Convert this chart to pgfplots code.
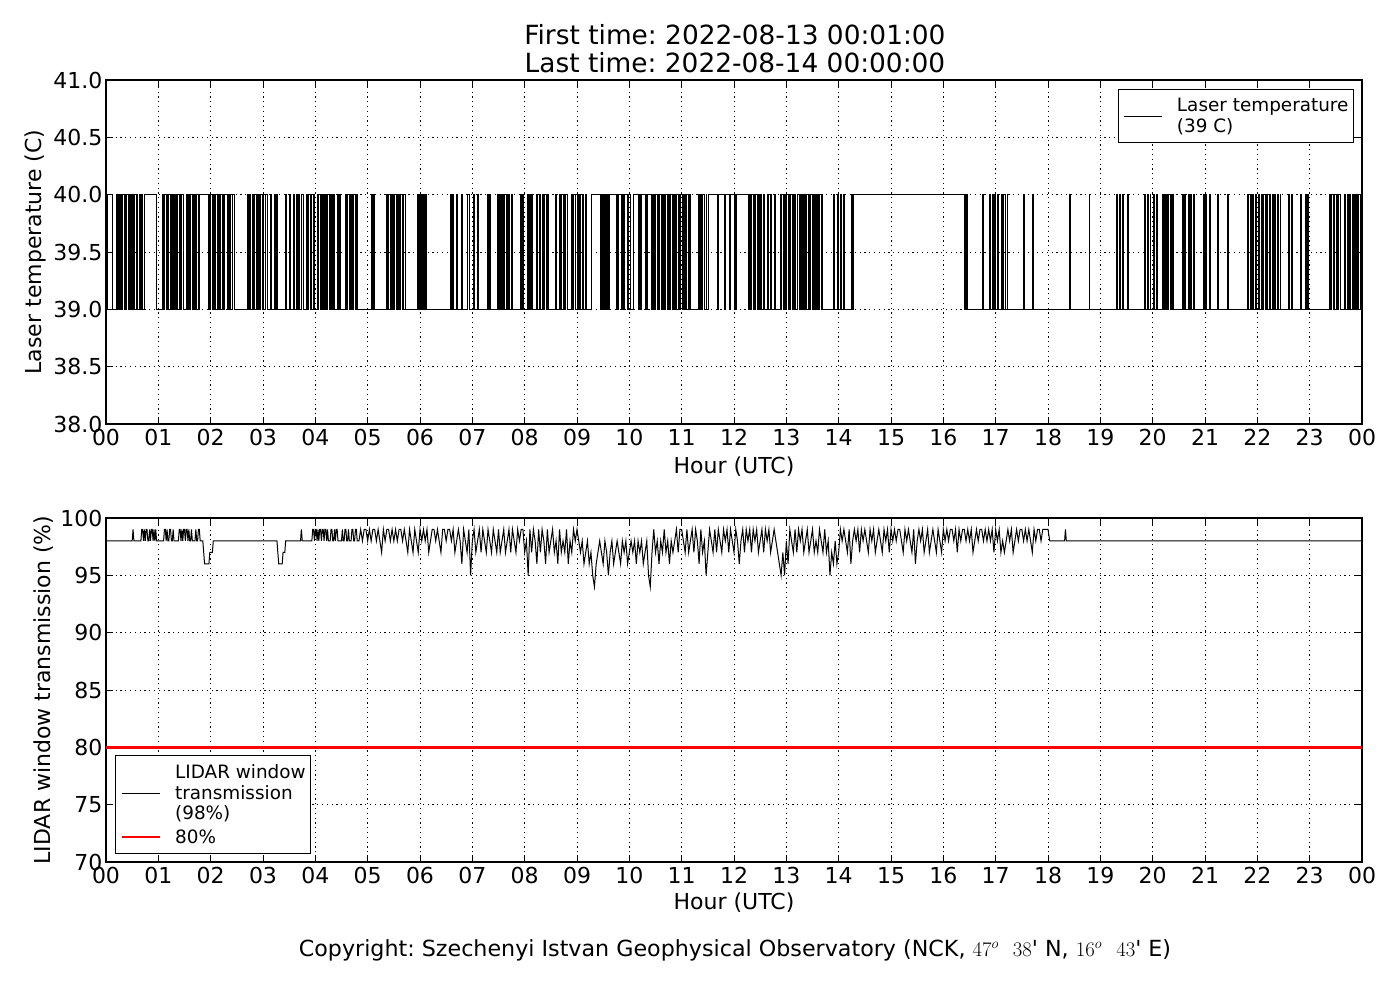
\documentclass[border=0pt]{standalone}
\usepackage{fontspec}
\setmainfont{DejaVu Sans}
\usepackage{pgfplots}
\pgfplotsset{compat=1.18}
\pgfplotsset{myaxis/.style={
  scale only axis, width=1256pt, height=344pt,
  xmin=0, xmax=1440,
  xtick={0,60,...,1440},
  xticklabels={00,01,02,03,04,05,06,07,08,09,10,11,12,13,14,15,16,17,18,19,20,21,22,23,00},
  tick align=inside,
  major tick length=7pt,
  tick style={black, line width=0.9pt},
  axis line style={line width=1.1pt},
  grid=major,
  grid style={black, line width=0.8pt, dash pattern=on 1.2pt off 3.6pt},
  ticklabel style={font=\fontsize{22}{26}\selectfont},
  xticklabel style={yshift=-2pt},
  label style={font=\fontsize{22}{26}\selectfont},
  xlabel={Hour (UTC)},
  legend cell align=left,
  legend style={font=\fontsize{18.4}{20.5}\selectfont, draw=black, line width=1pt, cells={align=left}, inner xsep=3pt, inner ysep=7pt, row sep=4pt, nodes={inner sep=2pt}},
  legend image code/.code={\path (-2pt,0pt); \draw[#1] (0pt,0pt) -- (38pt,0pt); \path (44pt,0pt);},
}}
\begin{document}
\frenchspacing
\begin{tikzpicture}
\useasboundingbox (0pt,0pt) rectangle (1400pt,-1000pt);
\node[font=\fontsize{26.4}{30}\selectfont] at (735pt,-35pt) {First time: 2022-08-13 00:01:00};
\node[font=\fontsize{26.4}{30}\selectfont] at (735pt,-63pt) {Last time: 2022-08-14 00:00:00};
\begin{axis}[myaxis, at={(106pt,-424pt)}, anchor=south west,
  ymin=38, ymax=41,
  ytick={38,38.5,39,39.5,40,40.5,41},
  yticklabels={38.0,38.5,39.0,39.5,40.0,40.5,41.0},
  ylabel={Laser temperature (C)},
  xlabel style={at={(axis description cs:0.5,-0.124)}, anchor=center},
  ylabel style={at={(axis description cs:-0.0565,0.5)}, anchor=center},
  legend style={at={(0.9936,0.974)}, anchor=north east},
]
\addplot[black, line width=1pt, const plot, forget plot] table[row sep=\\] {
x y\\
1 39\\
2 40\\ 7 39\\ 12 40\\ 13 39\\ 14 40\\ 16 39\\ 17 40\\ 18 39\\ 19 40\\ 21 39\\ 22 40\\ 23 39\\ 24 40\\ 26 39\\ 27 40\\ 28 39\\ 29 40\\ 30 39\\
32 40\\ 33 39\\ 35 40\\ 36 39\\ 38 40\\ 40 39\\ 41 40\\ 42 39\\ 44 40\\ 58 39\\
65 40\\ 66 39\\ 67 40\\ 69 39\\ 70 40\\ 71 39\\ 72 40\\ 74 39\\ 75 40\\ 76 39\\ 77 40\\ 79 39\\ 80 40\\ 81 39\\ 82 40\\ 84 39\\ 85 40\\ 86 39\\ 87 40\\ 89 39\\
92 40\\ 93 39\\ 95 40\\ 96 39\\ 97 40\\ 99 39\\ 100 40\\ 101 39\\ 102 40\\ 103 39\\ 104 40\\ 106 39\\ 107 40\\ 117 39\\
118 40\\ 119 39\\ 120 40\\ 122 39\\ 123 40\\ 124 39\\ 125 40\\ 128 39\\ 129 40\\ 130 39\\ 131 40\\ 133 39\\ 134 40\\ 135 39\\ 136 40\\ 139 39\\ 140 40\\ 141 39\\ 142 40\\ 143 39\\ 145 40\\ 147 39\\
162 40\\ 163 39\\ 165 40\\ 166 39\\ 168 40\\ 169 39\\ 170 40\\ 172 39\\ 173 40\\ 174 39\\ 175 40\\ 176 39\\ 177 40\\ 179 39\\ 180 40\\ 181 39\\ 183 40\\ 185 39\\
189 40\\ 190 39\\ 193 40\\ 194 39\\ 196 40\\ 197 39\\ 206 40\\ 207 39\\ 210 40\\ 212 39\\ 215 40\\ 216 39\\ 218 40\\ 219 39\\ 221 40\\ 222 39\\ 224 40\\ 226 39\\
230 40\\ 231 39\\ 232 40\\ 234 39\\ 235 40\\ 236 39\\ 238 40\\ 239 39\\ 242 40\\ 243 39\\ 244 40\\ 246 39\\ 247 40\\ 248 39\\ 249 40\\ 251 39\\
252 40\\ 253 39\\ 254 40\\ 256 39\\ 257 40\\ 258 39\\ 259 40\\ 260 39\\ 261 40\\ 262 39\\ 265 40\\ 267 39\\ 268 40\\ 269 39\\
275 40\\ 276 39\\ 277 40\\ 279 39\\ 280 40\\ 281 39\\ 282 40\\ 283 39\\ 284 40\\ 286 39\\ 287 40\\ 288 39\\ 304 40\\ 305 39\\ 307 40\\ 308 39\\
322 40\\ 323 39\\ 324 40\\ 326 39\\ 327 40\\ 328 39\\ 329 40\\ 330 39\\ 331 40\\ 333 39\\ 334 40\\ 335 39\\ 336 40\\ 337 39\\ 338 40\\ 340 39\\ 341 40\\ 343 39\\
357 40\\ 358 39\\ 359 40\\ 361 39\\ 362 40\\ 363 39\\ 364 40\\ 365 39\\ 366 40\\ 367 39\\
395 40\\ 396 39\\ 397 40\\ 398 39\\ 402 40\\ 403 39\\ 408 40\\ 409 39\\ 415 40\\ 417 39\\ 421 40\\ 422 39\\ 426 40\\ 427 39\\ 437 40\\ 438 39\\ 440 40\\ 441 39\\
449 40\\ 450 39\\ 451 40\\ 452 39\\ 453 40\\ 455 39\\ 456 40\\ 457 39\\ 459 40\\ 460 39\\ 461 40\\ 463 39\\ 465 40\\ 466 39\\
475 40\\ 476 39\\ 478 40\\ 479 39\\ 483 40\\ 484 39\\ 485 40\\ 487 39\\ 488 40\\ 489 39\\ 494 40\\ 495 39\\ 497 40\\ 498 39\\
501 40\\ 502 39\\ 503 40\\ 505 39\\ 506 40\\ 507 39\\ 515 40\\ 517 39\\ 520 40\\ 521 39\\ 522 40\\ 524 39\\ 525 40\\ 526 39\\ 527 40\\ 529 39\\
534 40\\ 535 39\\ 536 40\\ 538 39\\ 540 40\\ 541 39\\ 542 40\\ 543 39\\ 544 40\\ 546 39\\ 547 40\\ 548 39\\ 550 40\\ 551 39\\
557 40\\ 567 39\\ 568 40\\ 569 39\\ 570 40\\ 572 39\\ 573 40\\ 574 39\\ 575 40\\ 576 39\\ 577 40\\ 585 39\\ 586 40\\ 587 39\\ 588 40\\ 591 39\\ 592 40\\ 593 39\\ 594 40\\ 598 39\\ 599 40\\ 601 39\\
605 40\\ 611 39\\ 612 40\\ 613 39\\ 614 40\\ 618 39\\ 619 40\\ 620 39\\ 621 40\\ 625 39\\ 626 40\\ 627 39\\ 628 40\\ 629 39\\ 630 40\\ 632 39\\ 633 40\\ 634 39\\ 635 40\\ 637 39\\
638 40\\ 639 39\\ 640 40\\ 641 39\\ 642 40\\ 644 39\\ 645 40\\ 646 39\\ 647 40\\ 649 39\\ 650 40\\ 651 39\\ 652 40\\ 653 39\\ 654 40\\ 656 39\\ 657 40\\ 658 39\\ 659 40\\ 661 39\\
662 40\\ 663 39\\ 664 40\\ 665 39\\ 666 40\\ 668 39\\ 669 40\\ 670 39\\ 679 40\\ 680 39\\ 682 40\\ 683 39\\ 684 40\\ 686 39\\ 688 40\\ 689 39\\
691 40\\ 701 39\\ 702 40\\ 709 39\\ 710 40\\ 715 39\\ 716 40\\ 720 39\\ 721 40\\ 722 39\\ 723 40\\ 737 39\\
738 40\\ 739 39\\ 740 40\\ 742 39\\ 743 40\\ 744 39\\ 745 40\\ 747 39\\ 748 40\\ 749 39\\ 750 40\\ 751 39\\ 754 40\\ 755 39\\ 758 40\\ 759 39\\ 762 40\\ 763 39\\ 766 40\\ 767 39\\
773 40\\ 774 39\\ 775 40\\ 777 39\\ 778 40\\ 779 39\\ 780 40\\ 782 39\\ 783 40\\ 784 39\\ 785 40\\ 787 39\\ 788 40\\ 789 39\\ 790 40\\ 791 39\\
793 40\\ 795 39\\ 796 40\\ 797 39\\ 798 40\\ 800 39\\ 801 40\\ 802 39\\ 803 40\\ 805 39\\ 806 40\\ 807 39\\ 808 40\\ 810 39\\ 811 40\\ 812 39\\ 813 40\\ 815 39\\ 816 40\\ 817 39\\ 818 40\\ 820 39\\ 821 40\\ 822 39\\
834 40\\ 835 39\\ 839 40\\ 840 39\\ 842 40\\ 843 39\\ 845 40\\ 847 39\\ 855 40\\ 856 39\\ 857 40\\ 984 39\\ 985 40\\ 986 39\\ 987 40\\ 988 39\\
1005 40\\ 1006 39\\ 1013 40\\ 1014 39\\ 1016 40\\ 1017 39\\ 1019 40\\ 1020 39\\ 1022 40\\ 1023 39\\ 1027 40\\ 1028 39\\ 1029 40\\ 1031 39\\ 1033 40\\ 1034 39\\
1052 40\\ 1053 39\\ 1062 40\\ 1063 39\\ 1105 40\\ 1106 39\\ 1127 40\\ 1128 39\\
1159 40\\ 1160 39\\ 1162 40\\ 1163 39\\ 1165 40\\ 1166 39\\ 1171 40\\ 1172 39\\ 1191 40\\ 1192 39\\ 1194 40\\ 1195 39\\ 1197 40\\ 1198 39\\ 1201 40\\ 1202 39\\ 1204 40\\ 1205 39\\
1211 40\\ 1212 39\\ 1213 40\\ 1215 39\\ 1216 40\\ 1217 39\\ 1218 40\\ 1220 39\\ 1221 40\\ 1222 39\\ 1223 40\\ 1224 39\\ 1234 40\\ 1235 39\\ 1237 40\\ 1238 39\\
1241 40\\ 1242 39\\ 1243 40\\ 1245 39\\ 1247 40\\ 1248 39\\ 1258 40\\ 1259 39\\ 1261 40\\ 1262 39\\ 1265 40\\ 1266 39\\ 1274 40\\ 1275 39\\ 1286 40\\ 1287 39\\
1309 40\\ 1310 39\\ 1312 40\\ 1313 39\\ 1315 40\\ 1316 39\\ 1318 40\\ 1319 39\\ 1321 40\\ 1322 39\\ 1325 40\\ 1326 39\\ 1327 40\\ 1329 39\\ 1331 40\\ 1332 39\\ 1334 40\\ 1335 39\\
1337 40\\ 1338 39\\ 1340 40\\ 1341 39\\ 1343 40\\ 1344 39\\ 1346 40\\ 1347 39\\ 1356 40\\ 1357 39\\ 1359 40\\ 1360 39\\ 1370 40\\ 1371 39\\ 1375 40\\ 1376 39\\ 1378 40\\ 1379 39\\
1403 40\\ 1404 39\\ 1405 40\\ 1407 39\\ 1408 40\\ 1409 39\\ 1411 40\\ 1412 39\\ 1413 40\\ 1415 39\\ 1420 40\\ 1421 39\\ 1423 40\\ 1424 39\\ 1426 40\\ 1427 39\\
1429 40\\ 1430 39\\ 1431 40\\ 1433 39\\ 1434 40\\ 1435 39\\ 1436 40\\ 1438 39\\ 1439 40\\ 1440 39\\
};
\addlegendimage{black, line width=1pt}
\addlegendentry{\hspace*{6pt}Laser temperature\\\hspace*{6pt}(39 C)}
\end{axis}
\begin{axis}[myaxis, at={(106pt,-862pt)}, anchor=south west,
  ymin=70, ymax=100,
  ytick={70,75,80,85,90,95,100},
  yticklabels={70,75,80,85,90,95,100},
  ylabel={LIDAR window transmission (\%)},
  xlabel style={at={(axis description cs:0.5,-0.118)}, anchor=center},
  ylabel style={at={(axis description cs:-0.050,0.5)}, anchor=center},
  legend style={at={(0.0072,0.023)}, anchor=south west},
]
\addplot[black, line width=1pt, forget plot] table[row sep=\\] {
x y\\
1 98\\ 30 98\\ 31 99\\ 32 98\\
40 98\\ 41 99\\ 42 99\\ 43 98\\ 44 99\\ 45 98\\ 46 99\\ 47 99\\ 48 98\\
49 98\\ 50 99\\ 51 98\\ 52 99\\ 53 99\\ 54 98\\ 55 99\\ 56 98\\ 57 99\\ 58 98\\
66 98\\ 67 99\\ 68 99\\ 69 98\\ 70 99\\ 71 98\\ 72 98\\ 73 99\\ 74 99\\ 75 98\\ 76 98\\ 77 99\\ 78 98\\
83 98\\ 84 99\\ 85 99\\ 86 98\\ 87 99\\ 88 98\\ 89 99\\ 90 99\\ 91 98\\ 92 99\\ 93 99\\ 94 98\\ 95 99\\ 96 98\\ 97 98\\ 98 99\\ 99 98\\
102 98\\ 103 99\\ 104 98\\ 105 98\\ 106 99\\ 107 99\\ 108 98\\
111 98\\ 113 96\\ 118 96\\ 119 97\\ 122 97\\ 123 98\\
196 98\\ 198 96\\ 202 96\\ 203 97\\ 205 97\\ 206 98\\
223 98\\ 224 99\\ 225 98\\
236 98\\ 237 99\\ 238 99\\ 239 98\\ 240 99\\ 241 99\\ 242 98\\ 243 99\\ 244 98\\ 245 99\\ 246 99\\ 247 98\\ 248 99\\ 249 99\\ 250 98\\ 251 99\\ 252 99\\ 253 98\\ 254 99\\ 255 98\\ 257 98\\ 258 99\\ 259 99\\ 260 98\\ 261 98\\ 262 99\\ 263 98\\ 264 99\\ 265 99\\ 266 98\\
270 98\\ 271 99\\ 272 98\\ 273 98\\ 274 99\\ 275 99\\ 276 98\\ 277 98\\ 278 99\\ 279 98\\ 281 98\\ 282 99\\ 283 99\\ 284 98\\ 285 98\\ 286 99\\ 287 99\\ 288 98\\
290 98\\ 292 99\\ 294 98\\ 296 99\\ 298 99\\ 300 98\\ 302 99\\ 304 98\\ 306 99\\ 308 99\\ 310 98\\ 312 99\\ 314 98\\ 316 97\\ 318 99\\ 320 98\\ 322 99\\ 324 99\\ 326 98\\ 328 99\\
330 98\\ 332 99\\ 334 98\\ 336 99\\ 338 99\\ 340 98\\ 342 99\\ 344 98\\ 346 97\\ 348 99\\ 350 98\\ 352 97\\ 354 99\\ 356 98\\ 358 97\\ 360 99\\ 362 98\\ 364 99\\
366 98\\ 368 99\\ 370 97\\ 372 98\\ 374 99\\ 376 99\\ 378 98\\ 380 99\\ 382 98\\ 384 97\\ 386 99\\ 388 99\\ 390 98\\ 392 99\\ 394 99\\ 396 98\\ 398 99\\ 400 97\\ 402 98\\ 404 99\\
406 98\\ 408 96\\ 410 99\\ 412 98\\ 414 97\\ 416 99\\ 418 95\\ 420 98\\ 422 99\\ 424 97\\ 426 98\\ 428 99\\ 430 97\\ 432 99\\ 434 98\\ 436 97\\ 438 99\\ 440 98\\
442 97\\ 444 99\\ 446 98\\ 448 97\\ 450 99\\ 452 97\\ 454 98\\ 456 99\\ 458 97\\ 460 98\\ 462 99\\ 464 97\\ 466 99\\ 468 98\\ 470 97\\ 472 99\\ 474 98\\ 476 99\\ 478 99\\ 480 97\\
482 98\\ 484 95\\ 486 99\\ 488 97\\ 490 99\\ 492 98\\ 494 96\\ 496 99\\ 498 97\\ 500 99\\ 502 98\\ 504 96\\ 506 99\\ 508 97\\ 510 98\\ 512 99\\ 514 97\\ 516 98\\ 518 96\\ 520 99\\
522 97\\ 524 98\\ 526 97\\ 528 99\\ 530 96\\ 532 98\\ 534 97\\ 536 99\\ 538 98\\ 540 99\\
542 98\\ 544 97\\ 546 98\\ 548 96\\ 550 97\\ 552 98\\ 554 96\\ 556 97\\ 558 95\\ 560 94\\ 562 96\\ 564 97\\ 566 98\\ 568 97\\ 570 96\\ 572 98\\ 574 97\\ 576 95\\ 578 97\\ 580 98\\
582 96\\ 584 97\\ 586 98\\ 588 97\\ 590 96\\ 592 98\\ 594 97\\ 596 98\\ 598 96\\ 600 97\\ 602 98\\ 604 97\\
606 98\\ 608 96\\ 610 98\\ 612 97\\ 614 98\\ 616 96\\ 618 97\\ 620 98\\ 622 95\\ 624 94\\ 626 97\\ 628 99\\ 630 97\\ 632 98\\ 634 96\\ 636 98\\ 638 97\\ 640 99\\ 642 97\\ 644 98\\
646 96\\ 648 98\\ 650 97\\ 652 98\\ 654 99\\ 656 97\\ 658 99\\
660 99\\ 662 98\\ 664 97\\ 666 99\\ 668 97\\ 670 98\\ 672 99\\ 674 97\\ 676 99\\ 678 98\\ 680 96\\ 682 99\\ 684 97\\ 686 98\\ 688 95\\ 690 97\\ 692 99\\ 694 98\\ 696 97\\ 698 99\\
700 97\\ 702 99\\ 704 98\\ 706 97\\ 708 99\\ 710 98\\ 712 99\\ 714 97\\ 716 99\\ 718 98\\ 720 97\\ 722 99\\ 724 98\\ 726 96\\
728 98\\ 730 99\\ 732 97\\ 734 99\\ 736 98\\ 738 99\\ 740 97\\ 742 99\\ 744 98\\ 746 99\\ 748 97\\ 750 98\\ 752 99\\ 754 97\\ 756 99\\ 758 98\\ 760 99\\ 762 97\\ 764 98\\ 766 99\\
768 98\\ 770 97\\ 772 96\\ 774 95\\ 776 97\\ 778 95\\ 780 98\\ 782 96\\ 784 99\\ 786 98\\ 788 97\\ 790 99\\ 792 97\\ 794 99\\ 796 98\\ 798 99\\ 800 97\\
802 98\\ 804 99\\ 806 97\\ 808 98\\ 810 99\\ 812 97\\ 814 98\\ 816 97\\ 818 99\\ 820 98\\ 822 97\\ 824 99\\ 826 97\\ 828 98\\ 830 95\\ 832 97\\ 834 96\\ 836 98\\ 838 96\\ 840 97\\ 842 99\\ 844 98\\
846 99\\ 848 98\\ 850 97\\ 852 99\\ 854 96\\ 856 98\\ 858 99\\ 860 98\\ 862 99\\ 864 97\\ 866 99\\ 868 98\\ 870 99\\ 872 98\\ 874 97\\ 876 99\\ 878 98\\ 880 99\\ 882 97\\ 884 98\\
886 99\\ 888 98\\ 890 97\\ 892 99\\ 894 98\\ 896 99\\ 898 97\\ 900 99\\
902 98\\ 904 99\\ 906 98\\ 908 99\\ 910 99\\ 912 98\\ 914 97\\ 916 99\\ 918 98\\ 920 99\\ 922 98\\ 924 97\\ 926 99\\ 928 96\\ 930 98\\ 932 99\\ 934 98\\ 936 99\\ 938 97\\ 940 98\\
942 99\\ 944 97\\ 946 98\\ 948 99\\ 950 98\\ 952 97\\ 954 99\\ 956 98\\ 958 97\\ 960 99\\ 962 98\\ 964 99\\
966 98\\ 968 99\\ 970 99\\ 972 98\\ 974 99\\ 976 97\\ 978 99\\ 980 98\\ 982 99\\ 984 99\\ 986 98\\ 988 99\\ 990 98\\ 992 99\\ 994 97\\ 996 98\\ 998 99\\ 1000 98\\ 1002 99\\ 1004 99\\
1006 98\\ 1008 99\\ 1010 98\\ 1012 99\\ 1014 98\\ 1016 99\\ 1018 97\\ 1020 99\\ 1022 98\\ 1024 99\\ 1026 97\\ 1028 98\\ 1030 97\\ 1032 98\\ 1034 99\\ 1036 98\\ 1038 99\\ 1040 97\\
1042 98\\ 1044 99\\ 1046 98\\ 1048 99\\ 1050 99\\ 1052 98\\ 1054 99\\ 1056 98\\ 1058 99\\ 1060 98\\ 1062 97\\ 1064 99\\ 1066 98\\ 1068 99\\ 1070 99\\ 1072 98\\ 1074 99\\ 1076 99\\ 1078 99\\ 1080 99\\ 1082 98\\
1099 98\\ 1100 99\\ 1101 98\\ 1440 98\\
};
\addplot[red, line width=2.6pt, forget plot] coordinates {(0,80) (1440,80)};
\addlegendimage{black, line width=1pt}
\addlegendentry{\hspace*{6pt}LIDAR window\\\hspace*{6pt}transmission\\\hspace*{6pt}(98\%)}
\addlegendimage{red, line width=2.6pt}
\addlegendentry{\hspace*{6pt}80\%}
\end{axis}
\node[font=\fontsize{22.2}{26}\selectfont] at (735pt,-950pt) {Copyright: Szechenyi Istvan Geophysical Observatory (NCK, $47^o$\ \ $38$\textquotesingle{} N, $16^o$\ \ $43$\textquotesingle{} E)};
\end{tikzpicture}
\end{document}
